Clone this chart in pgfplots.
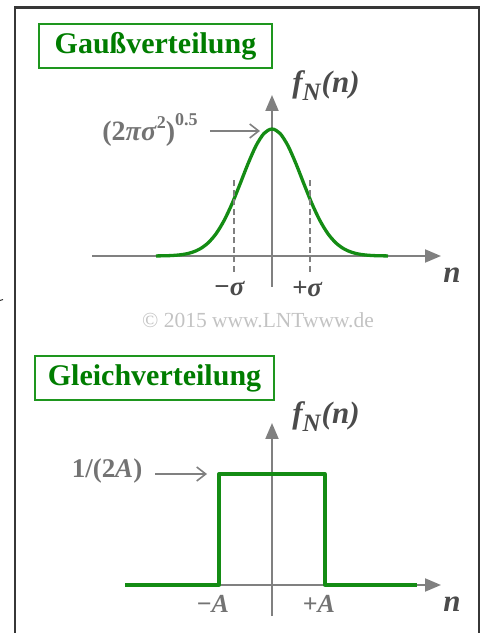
\documentclass[border=0pt]{standalone}
\usepackage{fontspec}
\setmainfont{Liberation Serif}
\usepackage{pgfplots}
\pgfplotsset{compat=1.18}
\usetikzlibrary{arrows.meta}

\definecolor{curvegreen}{RGB}{20,140,20}
\definecolor{boxgreen}{RGB}{30,150,30}
\definecolor{titlegreen}{RGB}{0,125,0}
\definecolor{axgray}{RGB}{128,128,128}
\definecolor{labgray}{RGB}{75,75,75}
\definecolor{notegray}{RGB}{115,115,115}
\definecolor{copygray}{RGB}{195,195,195}
\definecolor{framegray}{RGB}{55,55,55}

\tikzset{note arrow/.style={draw=axgray, line width=1.6pt, -{Straight Barb[length=9pt,width=14pt]}}}

\pgfplotsset{
  sketch/.style={
    scale only axis, axis lines=middle, enlargelimits=false, clip=false,
    xtick=\empty, ytick=\empty,
    axis line style={draw=axgray, line width=2pt, -{Triangle[length=16pt,width=13pt]}},
    every inner x axis line/.append style={-{Triangle[length=16pt,width=13pt]}},
    every inner y axis line/.append style={-{Triangle[length=16pt,width=13pt]}},
  },
}

% density symbol f_N(n)
\newcommand{\fN}{{\fontsize{31}{31}\selectfont\bfseries\itshape f\raisebox{-0.26em}{\fontsize{25}{25}\selectfont N}\kern1pt(n)}}

\begin{document}
\begin{tikzpicture}[x=1pt,y=1pt]
\useasboundingbox (0,0) rectangle (481,633);

% outer frame (open at the bottom)
\draw[framegray, line width=2.2pt] (15,-10) -- (15,625.5) -- (479,625.5) -- (479,-10);
\draw[framegray, line width=1pt] (0,332.5) -- (3,333.5);

% ---------------- Gaussian density ----------------
\node[draw=boxgreen, line width=1.6pt, minimum width=233pt, minimum height=44pt, inner sep=0pt,
      text=titlegreen, font=\fontsize{30}{30}\selectfont\bfseries] at (155.5,587) {Gaußverteilung};

\begin{axis}[sketch, at={(92pt,346pt)}, anchor=south west,
  width=349pt, height=192pt, xmin=-180, xmax=169, ymin=-31, ymax=161]
  \addplot[curvegreen, line width=3.3pt, smooth] coordinates {
    (-116,0.07) (-104,0.31) (-96,0.76) (-88,1.7) (-80,3.6) (-72,7.1)
    (-64,13.0) (-56,22.2) (-48,35.3) (-40,52.2) (-32,71.9) (-24,92.2)
    (-16,110.2) (-8,122.6) (0,127) (8,122.6) (16,110.2) (24,92.2)
    (32,71.9) (40,52.2) (48,35.3) (56,22.2) (64,13.0) (72,7.1)
    (80,3.6) (88,1.7) (96,0.76) (104,0.31) (116,0.07)};
  \addplot[axgray, line width=1.3pt, dash pattern=on 6pt off 3.5pt] coordinates {(-38,-16) (-38,78)};
  \addplot[axgray, line width=1.3pt, dash pattern=on 6pt off 3.5pt] coordinates {(38,-16) (38,78)};
  \draw[note arrow] (axis cs:-62,125) -- (axis cs:-12,125);
  \node[text=notegray, font=\fontsize{28}{28}\selectfont\bfseries] at (axis cs:-122,126)
    {(2\textit{πσ}\raisebox{0.42em}{\fontsize{18}{18}\selectfont 2})\raisebox{0.55em}{\fontsize{18}{18}\selectfont 0.5}};
  \node[text=labgray] at (axis cs:54,170) {\fN};
  \node[text=labgray, font=\fontsize{31}{31}\selectfont\bfseries\itshape] at (axis cs:180,-19) {n};
  \node[text=labgray, font=\fontsize{27}{27}\selectfont\bfseries\itshape] at (axis cs:-43,-33) {−σ};
  \node[text=labgray, font=\fontsize{27}{27}\selectfont\bfseries\itshape] at (axis cs:35,-33) {+σ};
  \node[text=copygray, font=\fontsize{21.5}{21.5}\selectfont] at (axis cs:-14,-64) {© 2015 www.LNTwww.de};
\end{axis}

% ---------------- uniform density ----------------
\node[draw=boxgreen, line width=1.6pt, minimum width=239pt, minimum height=44pt, inner sep=0pt,
      text=titlegreen, font=\fontsize{30}{30}\selectfont\bfseries] at (154.5,255) {Gleichverteilung};

\begin{axis}[sketch, at={(125pt,17pt)}, anchor=south west,
  width=316pt, height=193pt, xmin=-147, xmax=169, ymin=-31, ymax=162]
  \addplot[curvegreen, line width=3.3pt, line join=round] coordinates {
    (-147,0) (-53,0) (-53,111) (53,111) (53,0) (145,0)};
  \draw[note arrow] (axis cs:-117,111) -- (axis cs:-65,111);
  \node[text=notegray, font=\fontsize{27}{27}\selectfont\bfseries] at (axis cs:-165,114) {1/(2\textit{A})};
  \node[text=labgray] at (axis cs:54,168) {\fN};
  \node[text=labgray, font=\fontsize{31}{31}\selectfont\bfseries\itshape] at (axis cs:180,-19) {n};
  \node[text=notegray, font=\fontsize{26}{26}\selectfont\bfseries] at (axis cs:-59,-19) {−\textit{A}};
  \node[text=notegray, font=\fontsize{26}{26}\selectfont\bfseries] at (axis cs:47,-19) {+\textit{A}};
\end{axis}
\end{tikzpicture}
\end{document}
